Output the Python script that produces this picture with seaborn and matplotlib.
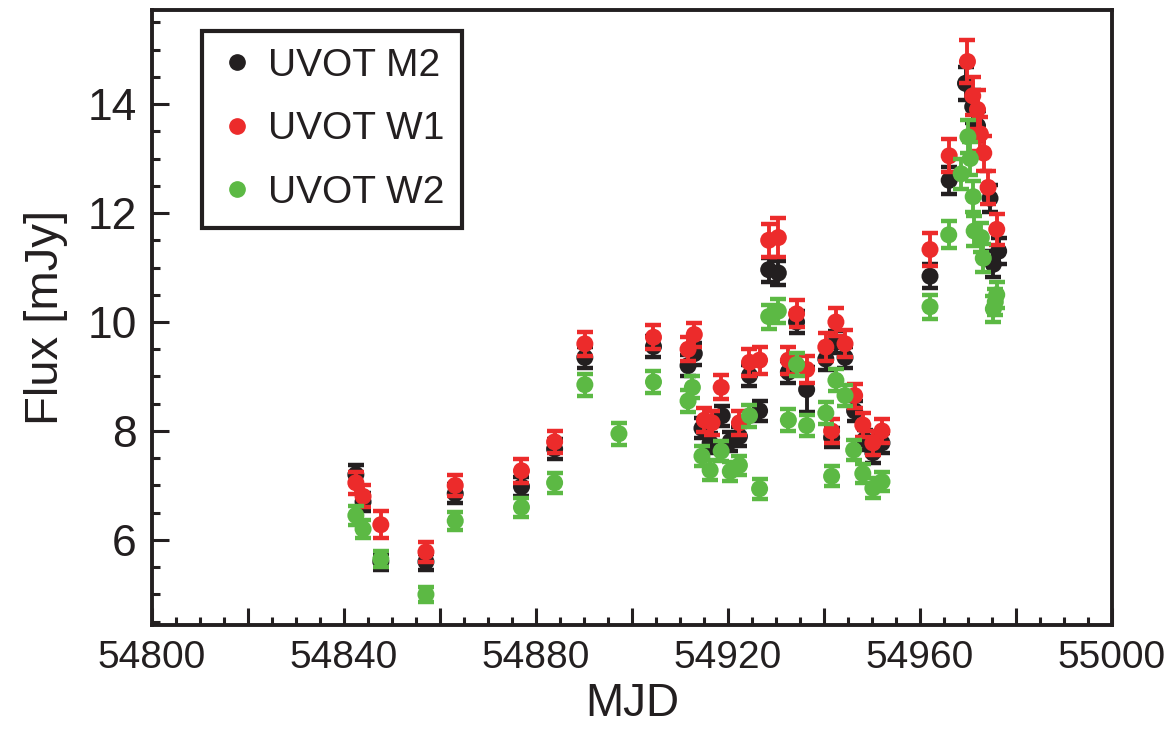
import pandas as pd
import matplotlib
matplotlib.use("Agg")
import matplotlib.pyplot as plt
from matplotlib.ticker import MultipleLocator, FuncFormatter
from matplotlib.lines import Line2D
import seaborn as sns

# UVOT M2
mjd_m2 = [54842.5, 54844.0, 54847.7, 54857.1, 54863.2, 54877.0, 54883.9, 54890.2,
          54904.5, 54911.7, 54913.0, 54914.6, 54916.3, 54918.8, 54920.5, 54922.4,
          54924.5, 54926.6, 54928.5, 54930.5, 54932.6, 54934.3, 54936.4, 54940.4,
          54941.6, 54942.5, 54944.4, 54946.4, 54948.5, 54950.2, 54952.1, 54962.1,
          54966.1, 54969.5, 54971.0, 54972.0, 54974.6, 54975.3, 54976.4]
flux_m2 = [7.2, 6.7, 5.6, 5.6, 6.85, 6.98, 7.67, 9.35,
           9.55, 9.2, 9.42, 8.05, 7.78, 8.28, 7.81, 7.9,
           9.02, 8.37, 10.96, 10.9, 9.08, 10.0, 8.76, 9.32,
           7.88, 9.63, 9.35, 8.37, 7.84, 7.6, 7.78, 10.84,
           12.6, 14.38, 13.95, 13.6, 12.27, 11.06, 11.3]
err_m2 = [0.18, 0.17, 0.15, 0.15, 0.17, 0.17, 0.18, 0.2,
          0.2, 0.2, 0.2, 0.18, 0.18, 0.18, 0.18, 0.18,
          0.2, 0.18, 0.22, 0.22, 0.2, 0.2, 0.42, 0.2,
          0.18, 0.2, 0.2, 0.18, 0.18, 0.18, 0.18, 0.22,
          0.25, 0.3, 0.3, 0.28, 0.25, 0.24, 0.24]

# UVOT W1
mjd_w1 = [54842.5, 54844.0, 54847.7, 54857.1, 54863.2, 54877.0, 54883.9, 54890.2,
          54904.5, 54911.7, 54913.0, 54915.1, 54916.7, 54918.6, 54922.4, 54924.5,
          54926.6, 54928.5, 54930.5, 54932.6, 54934.3, 54936.4, 54940.4, 54941.6,
          54942.5, 54944.4, 54946.4, 54948.1, 54950.2, 54952.1, 54962.1, 54966.1,
          54969.9, 54971.0, 54972.0, 54972.6, 54973.3, 54974.2, 54976.0]
flux_w1 = [7.05, 6.8, 6.28, 5.78, 7.0, 7.27, 7.8, 9.6,
           9.72, 9.5, 9.77, 8.2, 8.15, 8.8, 8.15, 9.26,
           9.3, 11.5, 11.55, 9.3, 10.15, 9.13, 9.54, 8.0,
           10.0, 9.6, 8.65, 8.11, 7.78, 8.0, 11.33, 13.05,
           14.78, 14.15, 13.9, 13.45, 13.1, 12.47, 11.7]
err_w1 = [0.2, 0.2, 0.25, 0.18, 0.2, 0.22, 0.2, 0.22,
          0.22, 0.22, 0.22, 0.22, 0.22, 0.22, 0.22, 0.25,
          0.25, 0.3, 0.35, 0.25, 0.25, 0.25, 0.25, 0.22,
          0.25, 0.25, 0.22, 0.22, 0.22, 0.22, 0.3, 0.3,
          0.4, 0.35, 0.35, 0.32, 0.32, 0.3, 0.28]

# UVOT W2
mjd_w2 = [54842.5, 54844.0, 54847.7, 54857.1, 54863.2, 54877.0, 54883.9, 54890.2,
          54897.3, 54904.5, 54911.7, 54912.6, 54914.6, 54916.3, 54918.6, 54920.5,
          54922.4, 54924.5, 54926.6, 54928.5, 54930.5, 54932.6, 54934.3, 54936.4,
          54940.4, 54941.6, 54942.5, 54944.4, 54946.2, 54948.1, 54950.2, 54952.1,
          54962.1, 54966.0, 54968.6, 54970.0, 54970.5, 54971.1, 54971.3, 54972.8,
          54973.2, 54975.3, 54975.7, 54976.0]
flux_w2 = [6.45, 6.2, 5.65, 5.0, 6.35, 6.6, 7.05, 8.85,
           7.95, 8.9, 8.55, 8.8, 7.54, 7.28, 7.63, 7.26,
           7.37, 8.28, 6.94, 10.1, 10.2, 8.2, 9.22, 8.1,
           8.33, 7.17, 8.93, 8.65, 7.65, 7.22, 6.95, 7.07,
           10.28, 11.6, 12.72, 13.4, 13.0, 12.3, 11.67, 11.55,
           11.17, 10.24, 10.37, 10.5]
err_w2 = [0.17, 0.17, 0.15, 0.14, 0.17, 0.17, 0.18, 0.2,
          0.2, 0.2, 0.2, 0.2, 0.18, 0.18, 0.18, 0.18,
          0.18, 0.2, 0.18, 0.22, 0.22, 0.2, 0.22, 0.2,
          0.2, 0.18, 0.2, 0.2, 0.18, 0.18, 0.18, 0.18,
          0.22, 0.25, 0.28, 0.3, 0.3, 0.28, 0.27, 0.27,
          0.26, 0.24, 0.24, 0.24]

bands = ["UVOT M2", "UVOT W1", "UVOT W2"]
colors = ["#231f20", "#ec2b2b", "#5cb944"]

df = pd.concat([
    pd.DataFrame({"mjd": mjd_m2, "flux": flux_m2, "err": err_m2, "band": bands[0]}),
    pd.DataFrame({"mjd": mjd_w1, "flux": flux_w1, "err": err_w1, "band": bands[1]}),
    pd.DataFrame({"mjd": mjd_w2, "flux": flux_w2, "err": err_w2, "band": bands[2]}),
])

sns.set_style("ticks")
plt.rcParams["font.family"] = ["Liberation Sans", "DejaVu Sans"]

fig = plt.figure(figsize=(11.68, 7.37), dpi=100)
ax = fig.add_axes([0.130, 0.152, 0.822, 0.834])

# error bars first, then the dots of the same band on top
for i, (band, col) in enumerate(zip(bands, colors)):
    sub = df[df["band"] == band]
    ax.errorbar(sub["mjd"], sub["flux"], yerr=sub["err"], fmt="none",
                ecolor=col, elinewidth=2.8, capsize=5.5, capthick=3.2, zorder=2 + 2 * i)
    sns.scatterplot(data=sub, x="mjd", y="flux", color=col, s=150,
                    edgecolor="none", ax=ax, zorder=3 + 2 * i, legend=False)

ax.set_xlim(54800, 55000)
ax.set_ylim(4.44, 15.72)

ax.xaxis.set_major_locator(MultipleLocator(20))
ax.xaxis.set_minor_locator(MultipleLocator(5))
ax.xaxis.set_major_formatter(FuncFormatter(lambda v, p: f"{v:.0f}" if round(v) % 40 == 0 else ""))
ax.yaxis.set_major_locator(MultipleLocator(2))
ax.yaxis.set_minor_locator(MultipleLocator(0.5))

ax.tick_params(which="both", direction="in", top=False, right=False, width=2.2, colors="#231f20")
ax.tick_params(which="major", length=12, pad=11)
ax.tick_params(which="minor", length=5.5)
ax.tick_params(axis="x", which="major", labelsize=28)
ax.tick_params(axis="y", which="major", labelsize=32)

for sp in ax.spines.values():
    sp.set_linewidth(2.8)
    sp.set_color("#231f20")

ax.set_xlabel("MJD", fontsize=33, labelpad=4, color="#231f20")
ax.set_ylabel("Flux [mJy]", fontsize=34, labelpad=14, color="#231f20")

handles = [Line2D([], [], marker="o", linestyle="none", color=c, markersize=11) for c in colors]
leg = ax.legend(handles, bands, loc="upper left", bbox_to_anchor=(0.052, 0.967),
                borderaxespad=0, frameon=True, fancybox=False, framealpha=1, fontsize=28,
                handletextpad=0.35, labelspacing=0.7, borderpad=0.45, handlelength=0.9)
leg.get_frame().set_edgecolor("#231f20")
leg.get_frame().set_linewidth(3)
for t in leg.get_texts():
    t.set_color("#231f20")

fig.savefig("out.png", dpi=100)
